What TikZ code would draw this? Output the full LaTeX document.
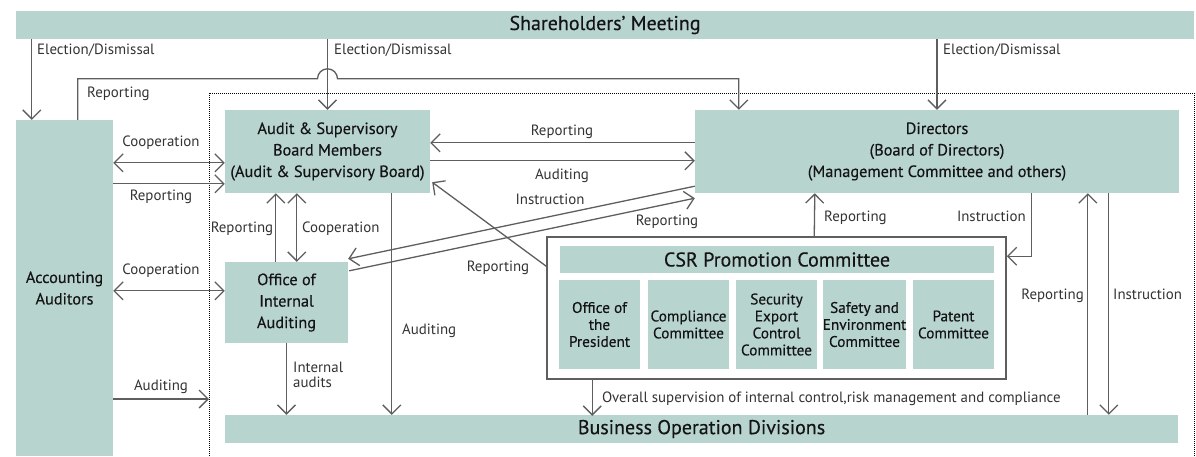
\documentclass[tikz,border=0pt]{standalone}
\usepackage{fontspec}
\setmainfont{PT Sans}
\newfontfamily\boxfont[FakeBold=0.35]{PT Sans}
\usetikzlibrary{arrows.meta,calc}
\definecolor{boxfill}{HTML}{B8D4CF}
\definecolor{linegray}{HTML}{5E5E5E}
\definecolor{labelgray}{HTML}{333333}
\definecolor{textdark}{HTML}{141414}
\begin{document}
\begin{tikzpicture}[x=1pt,y=-1pt,
  box/.style={fill=boxfill, inner sep=0pt, text=textdark, align=center,
    font=\boxfont\fontsize{16.3}{21.5}\selectfont},
  titlebox/.style={box, font=\boxfont\fontsize{20}{22}\selectfont},
  subbox/.style={box, minimum width=81pt, minimum height=89pt,
    font=\boxfont\fontsize{15.3}{17}\selectfont},
  lbl/.style={inner sep=0pt, text=labelgray, text height=10.5pt, text depth=3.2pt,
    font=\fontsize{14.9}{15}\selectfont},
  tip/.tip={Straight Barb[length=9pt,width=18pt]},
  arr/.style={draw=linegray, line width=1.3pt, -tip},
  twoway/.style={draw=linegray, line width=1.3pt, tip-tip},
  dotframe/.style={draw=black, line width=0.8pt, dash pattern=on 0.8pt off 1.2pt}
]
\useasboundingbox (0,0) rectangle (1196,456);

% boxes
\node[titlebox, minimum width=1178pt, minimum height=28pt] (sh) at (605,25) {Shareholders’ Meeting};
\node[box, minimum width=97pt, minimum height=336pt] (acc) at (64.5,288) {Accounting\\Auditors};
\node[box, minimum width=205pt, minimum height=83pt] (aud) at (327.5,151.5)
  {Audit \& Supervisory\\Board Members\\(Audit \& Supervisory Board)};
\node[box, minimum width=484pt, minimum height=83pt] (dir) at (937,151.5)
  {Directors\\(Board of Directors)\\(Management Committee and others)};
\node[box, minimum width=123pt, minimum height=81pt] (off) at (286.5,302.5)
  {Office of\\Internal\\Auditing};
\node[titlebox, minimum width=953pt, minimum height=28pt] (bus) at (701.5,429)
  {Business Operation Divisions};

% CSR committee group
\node[draw=linegray, line width=1.5pt, inner sep=0pt, minimum width=459pt, minimum height=142pt]
  (csr) at (776.5,308) {};
\node[titlebox, minimum width=434pt, minimum height=27pt] (csrbar) at (777,259.5)
  {CSR Promotion Committee};
\node[subbox] (s1) at (599.5,324.5) {Office of\\the\\President};
\node[subbox] (s2) at (688.5,324.5) {Compliance\\Committee};
\node[subbox] (s3) at (776.5,324.5) {Security\\Export\\Control\\Committee};
\node[subbox] (s4) at (864.5,324.5) {Safety and\\Environment\\Committee};
\node[subbox] (s5) at (953.5,324.5) {Patent\\Committee};

% dotted company frame
\coordinate (dtl) at (209,93);
\coordinate (dtr) at (1194,93);
\coordinate (dbl) at (209,456);
\coordinate (dbr) at (1194,456);
\draw[dotframe] (dbl) -- (dtl) -- (dtr) -- (dbr);

% election / dismissal
\draw[arr] ($(sh.south west)+(16,0)$) -- ($(acc.north west)+(16,0)$);
\draw[arr] (sh.south -| aud.north) -- (aud.north);
\draw[arr] (sh.south -| dir.north) -- (dir.north);
\node[lbl, anchor=west] (l1) at (37,51) {Election/Dismissal};
\node[lbl, anchor=west] (l2) at (334,51) {Election/Dismissal};
\node[lbl, anchor=west] (l3) at (943,51) {Election/Dismissal};

% accounting auditors report to directors (line hops over the election line)
\path (aud.north) ++(0,-31) coordinate (jmp);
\path (dir.north west) ++(44,-31) coordinate (rtop);
\draw[arr] ($(acc.north west)+(62,0)$) |- ($(jmp)+(-10,0)$)
  arc[start angle=180, end angle=360, radius=10] -- (rtop) -- (rtop |- dir.north);
\node[lbl, anchor=west] (l4) at (87,94) {Reporting};

% audit board <-> directors
\draw[arr] ($(dir.north west)+(0,33)$) -- ($(aud.north east)+(0,33)$);
\node[lbl] (l5) at (562,132) {Reporting};
\draw[arr] ($(aud.north east)+(0,51)$) -- ($(dir.north west)+(0,51)$);
\node[lbl] (l6) at (562,176) {Auditing};

% directors <-> office of internal auditing
\draw[arr] ($(dir.south west)+(0,-7)$) -- ($(off.north east)+(0,-3)$);
\node[lbl] (l7) at (550,201) {Instruction};
\draw[arr] ($(off.north east)+(1,9)$) -- ($(dir.south west)+(0,5)$);
\node[lbl] (l8) at (667,222) {Reporting};

% CSR committee reports to audit board
\draw[arr] ($(csr.north west)+(0,30)$) -- ($(aud.south east)+(2,-11)$);
\node[lbl] (l9) at (498,268) {Reporting};

% accounting auditors <-> audit board / office
\draw[twoway] ($(acc.north east)+(0,43)$) -- ($(aud.north west)+(0,53)$);
\node[lbl] (l10) at (161,143) {Cooperation};
\draw[arr] ($(acc.north east)+(0,64)$) -- ($(aud.north west)+(0,74)$);
\node[lbl] (l11) at (161,197) {Reporting};
\draw[twoway] ($(acc.north east)+(0,171)$) -- ($(off.north west)+(0,29)$);
\node[lbl] (l12) at (161,271) {Cooperation};
\path (dtl) ++(0,306) coordinate (audt);
\draw[arr] (acc.east |- audt) -- (audt);
\node[lbl] (l13) at (161,387) {Auditing};

% office <-> audit board
\draw[arr] ($(off.north west)+(51,0)$) -- ($(aud.south west)+(51,0)$);
\node[lbl] (l14) at (242,229) {Reporting};
\draw[twoway] ($(off.north west)+(72,0)$) -- ($(aud.south west)+(72,0)$);
\node[lbl, anchor=west] (l15) at (302,229) {Cooperation};

% down to business operation divisions
\draw[arr] (off.south) -- (off.south |- bus.north);
\node[lbl, anchor=west, align=left, text height=, text depth=, font=\fontsize{14.9}{15.5}\selectfont]
  (l16) at (293,375) {Internal\\audits};
\draw[arr] ($(aud.south west)+(167,0)$) -- ($(bus.north west)+(167,0)$);
\node[lbl, anchor=west] (l17) at (402,331) {Auditing};
\draw[arr] ($(csr.south west)+(46,0)$) -- ($(csr.south west)+(46,36)$);
\node[lbl, anchor=west] (l18) at (602,399)
  {Overall supervision of internal control,risk management and compliance};

% CSR committee <-> directors
\draw[arr] ($(csr.north west)+(268,0)$) -- ($(dir.south west)+(120,0)$);
\node[lbl, anchor=west] (l19) at (824,218) {Reporting};
\path (csr.north east) ++(0,20) coordinate (csrin);
\draw[arr] ($(dir.south west)+(337,0)$) |- (csrin);
\node[lbl, anchor=east] (l20) at (1026,218) {Instruction};

% business operation divisions <-> directors
\draw[arr] ($(bus.north west)+(863,0)$) -- ($(dir.south west)+(393,0)$);
\node[lbl, anchor=east] (l21) at (1084,296) {Reporting};
\draw[arr] ($(dir.south west)+(414,0)$) -- ($(bus.north west)+(884,0)$);
\node[lbl, anchor=west] (l22) at (1113,296) {Instruction};
\end{tikzpicture}
\end{document}
